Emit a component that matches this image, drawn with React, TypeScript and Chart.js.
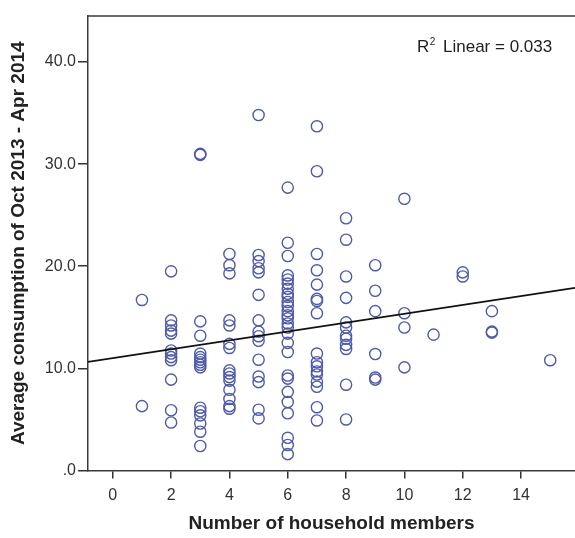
import React, { useEffect, useRef } from "react";
import { Chart, registerables } from "chart.js";

Chart.register(...registerables);

// Household sizes and the consumption values observed for each size
const members1 = [16.7, 6.3];
const members2 = [19.5, 14.7, 14.2, 13.7, 13.4, 11.75, 11.45, 11.1, 10.8, 8.9, 5.9, 4.7];
const members3 = [31.0, 30.9, 14.6, 13.2, 11.45, 11.1, 10.85, 10.6, 10.35, 10.1, 6.15, 5.8, 5.4, 4.6, 3.8, 2.4];
const members4 = [21.2, 20.1, 19.3, 14.7, 14.2, 12.4, 12.0, 9.8, 9.5, 9.15, 8.8, 7.9, 7.0, 6.3, 6.05];
const members5 = [34.8, 21.1, 20.5, 19.8, 19.4, 17.2, 14.7, 13.6, 13.15, 12.7, 10.85, 9.2, 8.65, 5.95, 5.1];
const members6 = [27.7, 22.3, 21.0, 19.1, 18.7, 18.3, 17.8, 17.3, 17.0, 16.5, 16.1, 15.6, 15.2, 14.9, 14.4, 14.0, 13.4, 12.5, 11.6, 9.3, 9.0, 7.7, 6.7, 5.6, 3.2, 2.5, 1.6];
const members7 = [33.7, 29.3, 21.2, 19.6, 18.2, 16.8, 16.6, 15.4, 11.45, 10.6, 10.2, 9.7, 9.4, 8.7, 8.2, 6.2, 4.9];
const members8 = [24.7, 22.6, 19.0, 16.9, 14.5, 14.0, 13.2, 12.9, 12.3, 11.9, 8.4, 5.0];
const members9 = [20.1, 17.6, 15.6, 11.4, 9.1, 8.9];
const members10 = [26.6, 15.4, 14.0, 10.1];
const members11 = [13.3];
const members12 = [19.4, 19.0];
const members13 = [15.6, 13.6, 13.5];
const members15 = [10.8];

const householdSizes = [1, 2, 3, 4, 5, 6, 7, 8, 9, 10, 11, 12, 13, 15];
const consumptionBySize = [
  members1, members2, members3, members4, members5, members6, members7,
  members8, members9, members10, members11, members12, members13, members15,
];

// Linear fit
const fitIntercept = 11.0;
const fitSlope = 0.434;
const rSquaredLabel = "0.033";

// Axis ranges and ticks
const xMin = -0.85;
const xMax = 15.85;
const xTicks = [0, 2, 4, 6, 8, 10, 12, 14];
const yMin = 0;
const yMax = 44.5;
const yTicks = [0, 10, 20, 30, 40];

const W = 575;
const H = 538;
const FONT = "'Liberation Sans', Arial, sans-serif";

export default function App() {
  const canvasRef = useRef<HTMLCanvasElement | null>(null);

  useEffect(() => {
    const canvas = canvasRef.current;
    if (!canvas) return;

    const points: { x: number; y: number }[] = [];
    householdSizes.forEach((s, i) => {
      consumptionBySize[i].forEach((v) => points.push({ x: s, y: v }));
    });

    const fitLine = [
      { x: xMin, y: fitIntercept + fitSlope * xMin },
      { x: xMax, y: fitIntercept + fitSlope * xMax },
    ];

    const frameAndLabel = {
      id: "frameAndLabel",
      afterDraw(chart: any) {
        const { ctx, chartArea } = chart;
        ctx.save();
        ctx.strokeStyle = "#3a3a3a";
        ctx.lineWidth = 1.5;
        ctx.beginPath();
        ctx.moveTo(chartArea.left, chartArea.top);
        ctx.lineTo(W, chartArea.top);
        ctx.stroke();
        // R² label
        ctx.fillStyle = "#222";
        ctx.textBaseline = "middle";
        ctx.textAlign = "left";
        ctx.font = `17px ${FONT}`;
        const yText = chartArea.top + 31;
        const xR = 417;
        ctx.fillText("R", xR, yText);
        const rw = ctx.measureText("R").width;
        ctx.font = `10px ${FONT}`;
        ctx.fillText("2", xR + rw + 0.5, yText - 5);
        ctx.font = `17px ${FONT}`;
        ctx.fillText("Linear = " + rSquaredLabel, 443, yText);
        ctx.restore();
      },
    };

    const chart = new Chart(canvas, {
      type: "scatter",
      data: {
        datasets: [
          {
            type: "scatter",
            data: points,
            pointStyle: "circle",
            pointRadius: 5.6,
            pointBorderWidth: 1.4,
            borderColor: "#4f5aa8",
            backgroundColor: "rgba(0,0,0,0)",
            pointBackgroundColor: "rgba(0,0,0,0)",
            pointBorderColor: "#4f5aa8",
            order: 2,
          } as any,
          {
            type: "line",
            data: fitLine,
            borderColor: "#111",
            borderWidth: 1.8,
            pointRadius: 0,
            fill: false,
            order: 1,
          } as any,
        ],
      },
      options: {
        animation: false,
        responsive: false,
        maintainAspectRatio: false,
        events: [],
        layout: { autoPadding: false, padding: { top: 16, right: 0, left: 0, bottom: 0 } },
        plugins: {
          legend: { display: false },
          tooltip: { enabled: false },
        },
        scales: {
          x: {
            type: "linear",
            min: xMin,
            max: xMax,
            afterFit(scale: any) {
              scale.height = 67.5;
              scale.paddingLeft = 0;
              scale.paddingRight = 0;
            },
            afterBuildTicks(scale: any) {
              scale.ticks = xTicks.map((v) => ({ value: v }));
            },
            ticks: {
              includeBounds: false,
              color: "#333",
              padding: 7,
              maxRotation: 0,
              font: { size: 16, family: FONT },
              callback: (v: any) => String(v),
            },
            grid: {
              drawOnChartArea: false,
              drawTicks: true,
              tickLength: 8,
              color: "#333",
              lineWidth: 1.5,
            },
            border: { display: true, color: "#3a3a3a", width: 1.5 },
            title: {
              display: true,
              text: "Number of household members",
              color: "#222",
              font: { size: 19, weight: "bold", family: FONT, lineHeight: 1.2 },
              padding: { top: 0, bottom: 3 },
            },
          },
          y: {
            type: "linear",
            min: yMin,
            max: yMax,
            afterFit(scale: any) {
              scale.width = 88;
              scale.paddingTop = 0;
              scale.paddingBottom = 0;
            },
            afterBuildTicks(scale: any) {
              scale.ticks = yTicks.map((v) => ({ value: v }));
            },
            ticks: {
              includeBounds: false,
              color: "#333",
              padding: 2,
              font: { size: 16, family: FONT },
              callback: (v: any) => (v === 0 ? ".0" : Number(v).toFixed(1)),
            },
            grid: {
              drawOnChartArea: false,
              drawTicks: true,
              tickLength: 10,
              color: "#333",
              lineWidth: 1.5,
            },
            border: { display: true, color: "#3a3a3a", width: 1.5 },
            title: {
              display: true,
              text: "Average consumption of Oct 2013 - Apr 2014",
              color: "#222",
              font: { size: 19, weight: "bold", family: FONT, lineHeight: 1.2 },
              padding: { top: 7, bottom: 0 },
            },
          },
        },
      },
      plugins: [frameAndLabel],
    });

    return () => chart.destroy();
  }, []);

  return (
    <div style={{ position: "absolute", left: 0, top: 0, width: W, height: H, background: "#fff" }}>
      <canvas ref={canvasRef} width={W} height={H} style={{ width: W, height: H, display: "block" }} />
    </div>
  );
}
